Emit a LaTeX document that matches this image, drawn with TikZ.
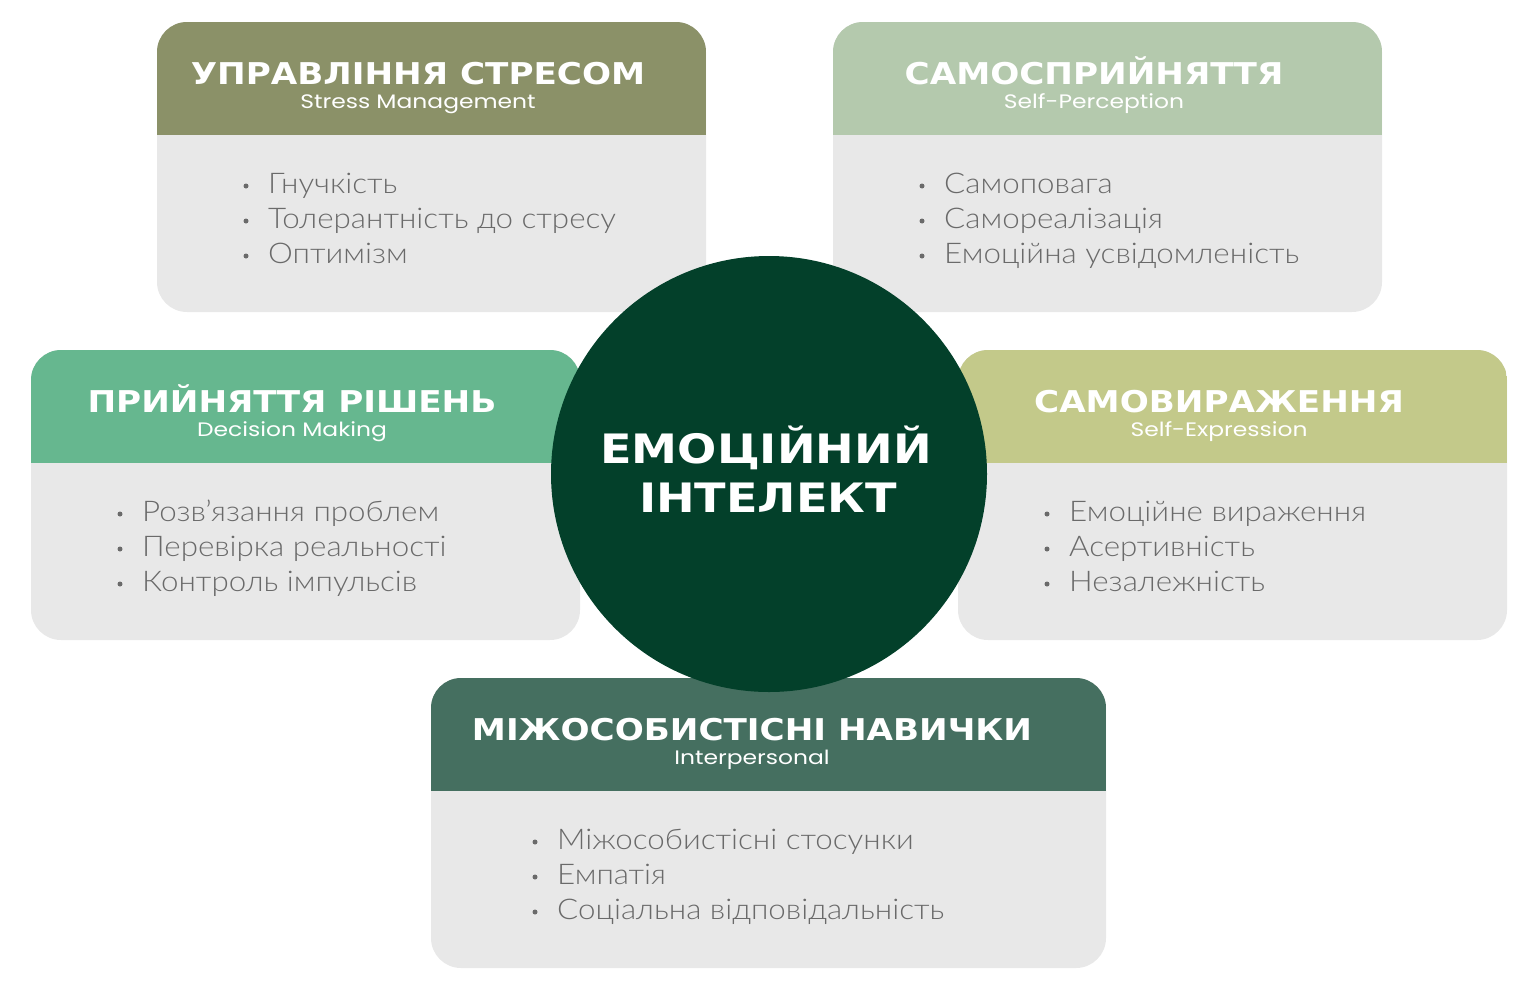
\documentclass[tikz,border=0pt]{standalone}
\usepackage{fontspec}
\setmainfont{DejaVu Sans}
\newfontfamily\headfont{DejaVu Sans Bold}[FakeStretch=1.14]
\newfontfamily\subfont{Poppins}[FakeStretch=1.2]
\newfontfamily\itemfont{Lato Light}[FakeStretch=1.1]
\usepackage{tikz}

\definecolor{stressolive}{HTML}{8B9168}
\definecolor{selfsage}{HTML}{B4C9AD}
\definecolor{decisiongreen}{HTML}{66B78F}
\definecolor{expressionkhaki}{HTML}{C3C98A}
\definecolor{interteal}{HTML}{456F60}
\definecolor{hubgreen}{HTML}{03402A}
\definecolor{cardgrey}{HTML}{E8E8E8}
\definecolor{itemgrey}{HTML}{6A6A6A}

\begin{document}
\begin{tikzpicture}[x=1pt, y=-1pt,
    card/.style={fill=cardgrey, rounded corners=30pt, minimum width=549pt, minimum height=290pt, inner sep=0pt,
        path picture={\fill[#1, sharp corners] (path picture bounding box.north west) rectangle ([yshift=-113pt]path picture bounding box.north east);}},
    title/.style={font=\headfont\fontsize{30}{30}\selectfont, text=white, anchor=base, inner sep=0pt},
    subtitle/.style={font=\subfont\fontsize{19.5}{19.5}\selectfont, text=white, anchor=base, inner sep=0pt},
    item/.style={font=\itemfont\fontsize{28.5}{30}\selectfont, text=itemgrey, anchor=base west, inner sep=0pt},
    hub/.style={circle, fill=hubgreen, minimum size=436pt, inner sep=0pt},
    hubtext/.style={font=\headfont\fontsize{40.5}{40.5}\selectfont, text=white, anchor=base, inner sep=0pt}]
                \useasboundingbox (0,0) rectangle (1538,991);

                % cards
                \node[card=stressolive] (stress) at (431.5,167) {};
                \node[card=selfsage] (perception) at (1107.5,167) {};
                \node[card=decisiongreen] (decision) at (305.5,495) {};
                \node[card=expressionkhaki] (expression) at (1232.5,495) {};
                \node[card=interteal, minimum width=675pt] (inter) at (768.5,823) {};

                \node[title] (stresst) at (418,84) {УПРАВЛІННЯ СТРЕСОМ};
                \node[subtitle] (stresss) at (418,108) {Stress Management};
                \fill[itemgrey] (246,186) circle (2.5);
                \fill[itemgrey] (246,221) circle (2.5);
                \fill[itemgrey] (246,256) circle (2.5);
                \node[item] (stress1) at (268,193) {Гнучкість};
                \node[item] (stress2) at (268,228) {Толерантність до стресу};
                \node[item] (stress3) at (268,263) {Оптимізм};

                \node[title] (perceptiont) at (1094,84) {САМОСПРИЙНЯТТЯ};
                \node[subtitle] (perceptions) at (1094,108) {Self-Perception};
                \fill[itemgrey] (922,186) circle (2.5);
                \fill[itemgrey] (922,221) circle (2.5);
                \fill[itemgrey] (922,256) circle (2.5);
                \node[item] (perception1) at (944,193) {Самоповага};
                \node[item] (perception2) at (944,228) {Самореалізація};
                \node[item] (perception3) at (944,263) {Емоційна усвідомленість};

                \node[title] (decisiont) at (292,412) {ПРИЙНЯТТЯ РІШЕНЬ};
                \node[subtitle] (decisions) at (292,436) {Decision Making};
                \fill[itemgrey] (120,514) circle (2.5);
                \fill[itemgrey] (120,549) circle (2.5);
                \fill[itemgrey] (120,584) circle (2.5);
                \node[item] (decision1) at (142,521) {Розв’язання проблем};
                \node[item] (decision2) at (142,556) {Перевірка реальності};
                \node[item] (decision3) at (142,591) {Контроль імпульсів};

                \node[title] (expressiont) at (1219,412) {САМОВИРАЖЕННЯ};
                \node[subtitle] (expressions) at (1219,436) {Self-Expression};
                \fill[itemgrey] (1047,514) circle (2.5);
                \fill[itemgrey] (1047,549) circle (2.5);
                \fill[itemgrey] (1047,584) circle (2.5);
                \node[item] (expression1) at (1069,521) {Емоційне вираження};
                \node[item] (expression2) at (1069,556) {Асертивність};
                \node[item] (expression3) at (1069,591) {Незалежність};

                \node[title] (intert) at (752,740) {МІЖОСОБИСТІСНІ НАВИЧКИ};
                \node[subtitle] (inters) at (752,764) {Interpersonal};
                \fill[itemgrey] (535,842) circle (2.5);
                \fill[itemgrey] (535,877) circle (2.5);
                \fill[itemgrey] (535,912) circle (2.5);
                \node[item] (inter1) at (557,849) {Міжособистісні стосунки};
                \node[item] (inter2) at (557,884) {Емпатія};
                \node[item] (inter3) at (557,919) {Соціальна відповідальність};

                % centre
                \node[hub] (ei) at (769,474) {};
                \node[hubtext] (ei1) at (766,463) {ЕМОЦІЙНИЙ};
                \node[hubtext] (ei2) at (768,512) {ІНТЕЛЕКТ};
            \end{tikzpicture}
\end{document}
